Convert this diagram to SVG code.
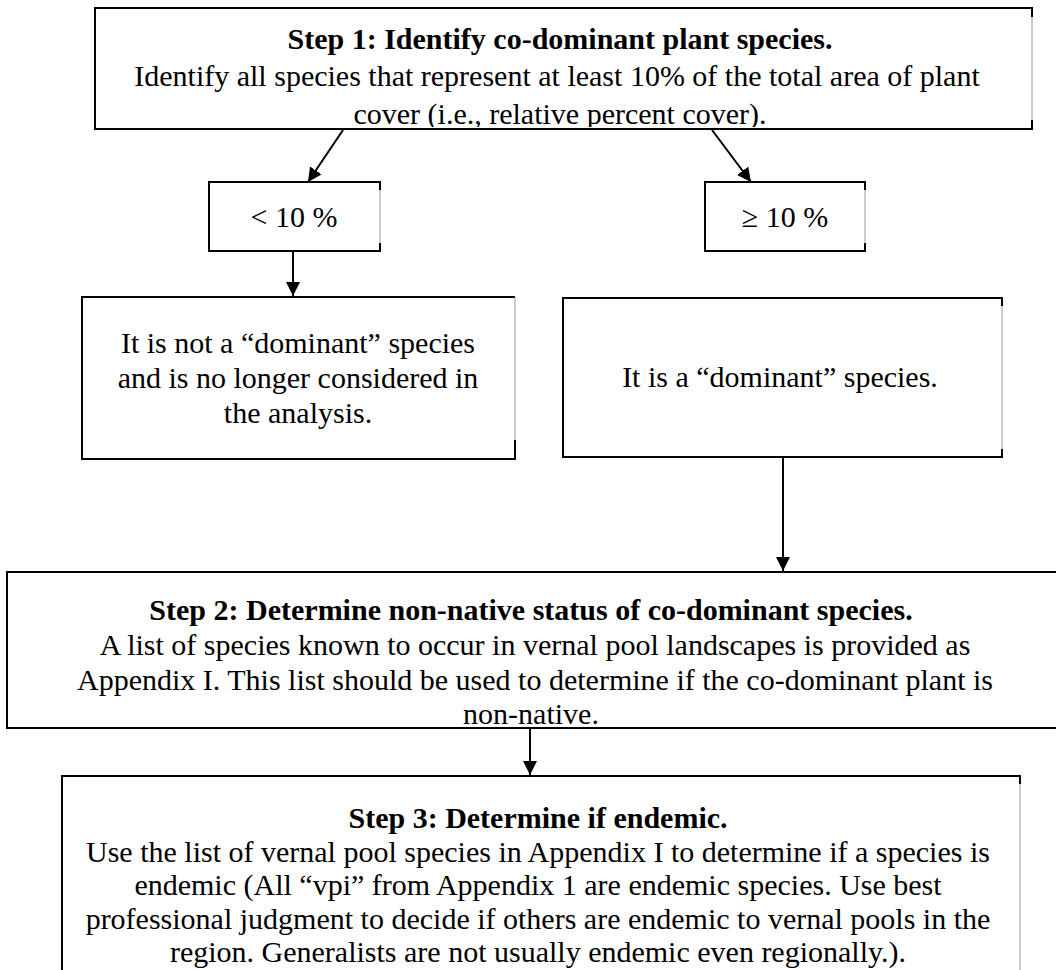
<svg xmlns="http://www.w3.org/2000/svg" width="1056" height="970" viewBox="0 0 1056 970">
<style>
  text { font-family: "Liberation Serif", "Times New Roman", serif; font-size: 30px; fill: #000; text-anchor: middle; }
  .b { font-weight: bold; }
  .edge { fill: none; stroke: #000; stroke-width: 2; }
  .thin { fill: none; stroke: #9a9a9a; stroke-width: 1; }
  .conn { fill: none; stroke: #000; stroke-width: 2; }
</style>
<defs>
  <marker id="ah" viewBox="0 0 10 10" refX="10" refY="5" markerWidth="7" markerHeight="7" markerUnits="strokeWidth" orient="auto">
    <path d="M0,0 L10,5 L0,10 z" fill="#000"/>
  </marker>
  <clipPath id="clip1"><rect x="95" y="8" width="937" height="119"/></clipPath>
</defs>
<rect width="1056" height="970" fill="#fff"/>

<g id="step1">
  <path class="edge" d="M1032,8 H95 V129 H1032"/>
  <path class="thin" d="M1032,8 V129"/>
  <path class="edge" d="M1032,7 V17 M1032,120 V130"/>
  <text class="b" x="560" y="49">Step 1: Identify co-dominant plant species.</text>
  <text x="557" y="86">Identify all species that represent at least 10% of the total area of plant</text>
  <text x="560" y="124" clip-path="url(#clip1)">cover (i.e., relative percent cover).</text>
</g>

<g id="lt10">
  <path class="edge" d="M380,182 H209 V251 H380"/>
  <path class="thin" d="M380,182 V251"/>
  <path class="edge" d="M380,181 V190 M380,243 V252"/>
  <text x="294" y="227">&lt; 10 %</text>
</g>

<g id="ge10">
  <path class="edge" d="M865,182 H705 V251 H865"/>
  <path class="thin" d="M865,182 V251"/>
  <path class="edge" d="M865,181 V190 M865,243 V252"/>
  <text x="785" y="227">≥ 10 %</text>
</g>

<g id="notdominant">
  <path class="edge" d="M515,297 H82 V459 H515"/>
  <path class="thin" d="M515,297 V459"/>
  <path class="edge" d="M515,440 V460"/>
  <text x="298" y="353">It is not a “dominant” species</text>
  <text x="298" y="388">and is no longer considered in</text>
  <text x="298" y="423">the analysis.</text>
</g>

<g id="dominant">
  <path class="edge" d="M1002,298 H563 V457 H1002"/>
  <path class="thin" d="M1002,298 V457"/>
  <path class="edge" d="M1002,297 V306 M1002,449 V458"/>
  <text x="780" y="387">It is a “dominant” species.</text>
</g>

<g id="step2">
  <path class="edge" d="M1056,572 H7 V728 H1056"/>
  <text class="b" x="531" y="620">Step 2: Determine non-native status of co-dominant species.</text>
  <text x="535" y="655">A list of species known to occur in vernal pool landscapes is provided as</text>
  <text x="535" y="690">Appendix I. This list should be used to determine if the co-dominant plant is</text>
  <text x="531" y="724">non-native.</text>
</g>

<g id="step3">
  <path class="edge" d="M62,970 V776 H1020"/>
  <path class="thin" d="M1020,776 V970"/>
  <path class="edge" d="M1020,775 V784"/>
  <text class="b" x="538" y="828">Step 3: Determine if endemic.</text>
  <text x="538" y="861.5">Use the list of vernal pool species in Appendix I to determine if a species is</text>
  <text x="538" y="895">endemic (All “vpi” from Appendix 1 are endemic species. Use best</text>
  <text x="538" y="928.5">professional judgment to decide if others are endemic to vernal pools in the</text>
  <text x="538" y="962">region. Generalists are not usually endemic even regionally.).</text>
</g>

<g id="connectors">
  <line class="conn" x1="343" y1="130" x2="308" y2="182" marker-end="url(#ah)"/>
  <line class="conn" x1="712" y1="130" x2="751" y2="182" marker-end="url(#ah)"/>
  <line class="conn" x1="293" y1="252" x2="293" y2="296" marker-end="url(#ah)"/>
  <line class="conn" x1="783" y1="458" x2="783" y2="571" marker-end="url(#ah)"/>
  <line class="conn" x1="530" y1="729" x2="530" y2="775" marker-end="url(#ah)"/>
</g>
</svg>
